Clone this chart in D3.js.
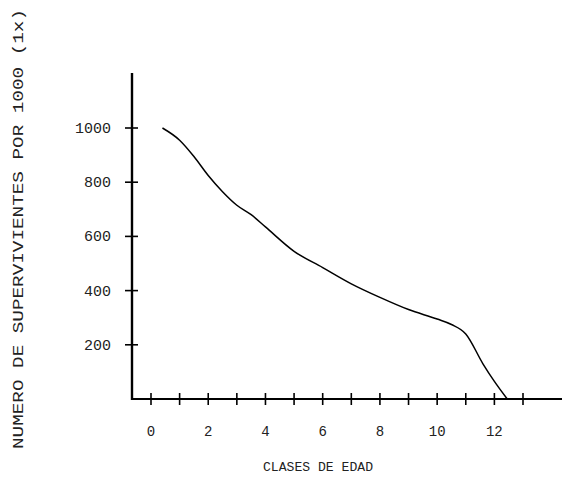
<!DOCTYPE html>
<html>
<head>
<meta charset="utf-8">
<script src="https://cdn.jsdelivr.net/npm/d3@7"></script>
<style>
  body { margin: 0; background: #fff; }
  text { fill: #222; }
</style>
</head>
<body>
<svg id="chart" width="567" height="481"></svg>
<script>
// survivorship curve, values
var ages      = [0.4, 1, 1.5, 2, 2.5, 3, 3.5, 4, 5, 6, 7, 8, 9, 10, 10.5, 11, 11.6, 12, 12.45];
var survivors = [1000, 955, 895, 825, 765, 715, 680, 635, 545, 485, 425, 375, 330, 295, 275, 240, 130, 65, 0];

var xTicks = [0, 1, 2, 3, 4, 5, 6, 7, 8, 9, 10, 11, 12, 13];
var xTickLabels = [0, 2, 4, 6, 8, 10, 12];
var yTicks = [200, 400, 600, 800, 1000];

var yTitle = "NUMERO DE SUPERVIVIENTES POR 1000 (1x)";
var xTitle = "CLASES DE EDAD";

var svg = d3.select("#chart");

var x = d3.scaleLinear().domain([0, 13]).range([151, 523]);
var y = d3.scaleLinear().domain([0, 1000]).range([399, 128]);

var mono = "'Liberation Mono', 'DejaVu Sans Mono', monospace";

// x axis line + crossing ticks
svg.append("line")
  .attr("x1", 131).attr("x2", 562)
  .attr("y1", y(0)).attr("y2", y(0))
  .attr("stroke", "#000").attr("stroke-width", 2.2);

svg.selectAll(".xt").data(xTicks).enter().append("line")
  .attr("x1", d => x(d)).attr("x2", d => x(d))
  .attr("y1", y(0) - 6).attr("y2", y(0) + 6)
  .attr("stroke", "#000").attr("stroke-width", 1.6);

svg.selectAll(".xl").data(xTickLabels).enter().append("text")
  .attr("x", d => x(d)).attr("y", 436)
  .attr("text-anchor", "middle")
  .style("font-family", mono).style("font-size", "14px")
  .text(d => d);

// y axis line + ticks
svg.append("line")
  .attr("x1", 132).attr("x2", 132)
  .attr("y1", 73).attr("y2", y(0) + 1)
  .attr("stroke", "#000").attr("stroke-width", 2.4);

svg.selectAll(".yt").data(yTicks).enter().append("line")
  .attr("x1", 125).attr("x2", 138)
  .attr("y1", d => y(d)).attr("y2", d => y(d))
  .attr("stroke", "#000").attr("stroke-width", 1.6);

svg.selectAll(".yl").data(yTicks).enter().append("text")
  .attr("x", 111).attr("y", d => y(d) + 5)
  .attr("text-anchor", "end")
  .style("font-family", mono).style("font-size", "15px")
  .text(d => d);

// curve
var line = d3.line()
  .x(function(d, i) { return x(ages[i]); })
  .y(function(d) { return y(d); })
  .curve(d3.curveMonotoneX);

svg.append("path")
  .datum(survivors)
  .attr("d", line)
  .attr("fill", "none")
  .attr("stroke", "#000")
  .attr("stroke-width", 1.5);

// titles
svg.append("text")
  .attr("transform", "translate(23,229) rotate(-90)")
  .attr("text-anchor", "middle")
  .attr("textLength", 440)
  .attr("lengthAdjust", "spacingAndGlyphs")
  .style("font-family", mono).style("font-size", "15px")
  .text(yTitle);

svg.append("text")
  .attr("x", 318).attr("y", 471)
  .attr("text-anchor", "middle")
  .attr("textLength", 110)
  .attr("lengthAdjust", "spacingAndGlyphs")
  .style("font-family", mono).style("font-size", "13px")
  .text(xTitle);
</script>
</body>
</html>
